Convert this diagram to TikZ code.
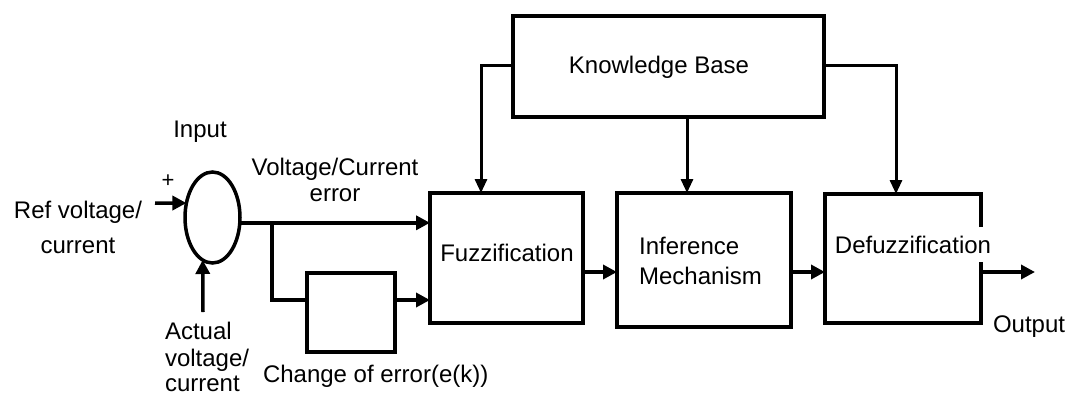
\documentclass[tikz,border=0pt]{standalone}
\usepackage{fontspec}
\setmainfont{Liberation Sans}
\usetikzlibrary{arrows.meta,shapes.geometric}
\begin{document}
\begin{tikzpicture}[x=1pt,y=-1pt,
  every node/.style={outer sep=0pt,inner sep=0pt,font=\fontsize{24}{28}\selectfont},
  blk/.style={draw,line width=4pt},
  boxline/.style={line width=4pt},
  sig/.style={line width=3.5pt,-{Triangle[length=14pt,width=14pt]}},
  plain/.style={line width=3.5pt},
  kbl/.style={line width=3pt,-{Triangle[length=14pt,width=12pt]}}]
\useasboundingbox[fill=white] (0,0) rectangle (1069,397);
% blocks
\node[blk,minimum width=311pt,minimum height=101pt] (kb) at (668.5,66.5) {};
\node (kbt) at (659,67) {Knowledge Base};
\node[blk,minimum width=153pt,minimum height=130pt] (fz) at (506.5,258) {};
\node (fzt) at (507,253) {Fuzzification};
\node[blk,minimum width=174pt,minimum height=134pt] (inf) at (704,260) {};
\node[align=left,font=\fontsize{24}{30}\selectfont] (inft) at (700.5,261) {Inference\\Mechanism};
\node[minimum width=156pt,minimum height=129pt] (df) at (903,258.5) {};
\draw[boxline] ([yshift=31.5pt]df.east) -- (df.north east) -- (df.north west) -- (df.south west) -- (df.south east) -- ([yshift=-3.5pt]df.east);
\node (dft) at (913,245) {Defuzzification};
\node[blk,minimum width=88pt,minimum height=79pt] (dk) at (351,312.5) {};
\node[draw,ellipse,line width=3.5pt,minimum width=55pt,minimum height=91pt] (sum) at (212.5,217.5) {};
% free ends
\coordinate (refin) at (155,203);
\coordinate (actin) at (203,312);
\coordinate (br) at (sum.-11 -| 272,0);
\coordinate (out) at (1035,272);
% connectors
\draw[sig] (refin) -- (sum.151);
\draw[sig] (actin) -- (sum.257);
\draw[sig] (sum.-11) -- (sum.-11 -| fz.west);
\draw[plain] (br) |- ([yshift=12.5pt]dk.west);
\draw[sig] ([yshift=12.5pt]dk.east) -- ([yshift=12.5pt]dk.east -| fz.west);
\draw[sig] ([yshift=-14pt]fz.east) -- ([yshift=-14pt]fz.east -| inf.west);
\draw[sig] ([yshift=-12pt]inf.east) -- ([yshift=-12pt]inf.east -| df.west);
\draw[sig] ([yshift=-13.5pt]df.east) -- (out);
\draw[kbl] ([yshift=1.5pt]kb.west) -| ([xshift=-25.5pt]fz.north);
\draw[kbl] ([xshift=18.5pt]kb.south) -- ([xshift=18.5pt]kb.south |- inf.north);
\draw[kbl] ([yshift=1.5pt]kb.east) -| ([xshift=-7pt]df.north);
% labels
\node[anchor=base] (inp) at (200,137) {Input};
\node[font=\fontsize{22}{24}\selectfont] (plus) at (168,181) {+};
\node[align=center,font=\fontsize{24}{26}\selectfont] (vce) at (335,180) {Voltage/Current\\error};
\node[align=center,font=\fontsize{24}{35}\selectfont] (ref) at (78,227) {Ref voltage/\\current};
\node[align=left,anchor=north west,font=\fontsize{24}{27}\selectfont] (act) at (165,322) {Actual\\voltage/\\[-2pt]current};
\node[anchor=base west] (chg) at (263,382) {Change of error(e(k))};
\node[anchor=base west] (outt) at (993,332) {Output};
\end{tikzpicture}
\end{document}
